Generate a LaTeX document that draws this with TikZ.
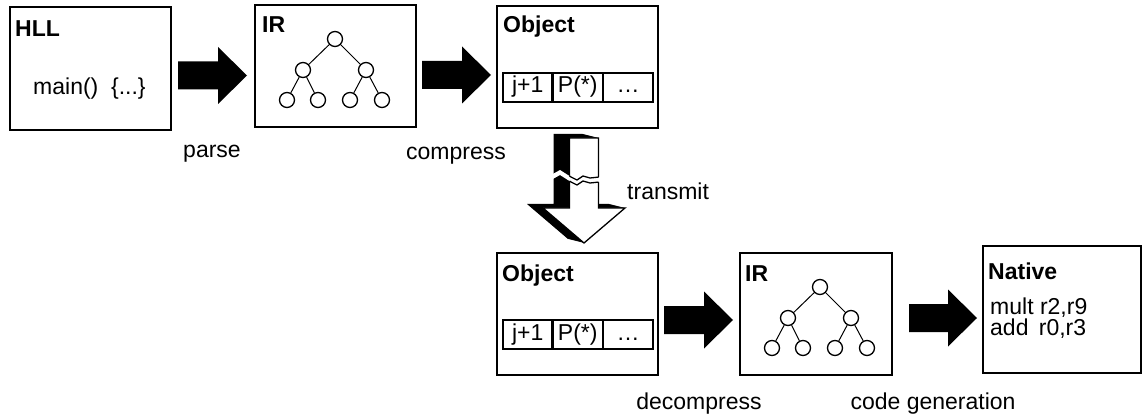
\documentclass[tikz,border=0pt]{standalone}
\usepackage{fontspec}
\setmainfont{Liberation Sans}
\usetikzlibrary{calc}

% horizontal block arrow from #1 to #2 (the y of #1 is used)
\newcommand\fatarrow[2]{%
  \fill let \p1=#1, \p2=#2 in
    (\x1,\y1+14pt) -- (\x2-29pt,\y1+14pt) -- (\x2-29pt,\y1+28.5pt) -- (\x2,\y1)
    -- (\x2-29pt,\y1-28.5pt) -- (\x2-29pt,\y1-14pt) -- (\x1,\y1-14pt) -- cycle;}

% small binary tree inside box #2, node names prefixed with #1
\newcommand\bintree[2]{%
  \node[knot] (#1r) at ($(#2.north west)+(80,34)$) {};
  \node[knot] (#1a) at ($(#2.north west)+(48,65)$) {};
  \node[knot] (#1b) at ($(#2.north west)+(111,65)$) {};
  \node[knot] (#1c) at ($(#2.north west)+(32,95)$) {};
  \node[knot] (#1d) at ($(#2.north west)+(63,95)$) {};
  \node[knot] (#1e) at ($(#2.north west)+(95,95)$) {};
  \node[knot] (#1f) at ($(#2.north west)+(127,95)$) {};
  \draw[branch] (#1r) -- (#1a) (#1r) -- (#1b) (#1a) -- (#1c) (#1a) -- (#1d)
                (#1b) -- (#1e) (#1b) -- (#1f);}

% three-cell record inside box #2
\newcommand\recordrow[2]{%
  \node[cell, minimum width=49.5pt] (#1p) at ($(#2.north west)+(6,81.5)$) {j+1};
  \node[cell, minimum width=50.5pt] (#1q) at (#1p.east) {P(*)};
  \node[cell, minimum width=50pt] (#1s) at (#1q.east) {…};}

\begin{document}
\begin{tikzpicture}[x=1pt,y=-1pt,
  every node/.style={font=\fontsize{23}{27}\selectfont},
  box/.style={draw, line width=2.7pt, inner sep=0, outer sep=0, anchor=north west},
  title/.style={anchor=base west, inner sep=0, font=\fontsize{23}{27}\selectfont\bfseries},
  txt/.style={anchor=base west, inner sep=0},
  lbl/.style={anchor=base, inner sep=0},
  cell/.style={draw, line width=2.3pt, minimum height=29pt, inner sep=0, outer sep=0,
               anchor=west, text height=16pt, text depth=5pt},
  knot/.style={circle, draw, line width=1.3pt, fill=white, minimum size=15pt, inner sep=0},
  branch/.style={line width=1pt},
  crackline/.style={line width=1.3pt, line join=round},
]
\useasboundingbox (0,0) rectangle (1144,417);

% ---- boxes ----
\node[box, minimum width=161pt, minimum height=123pt] (hll)  at (10,7) {};
\node[box, minimum width=161pt, minimum height=122pt] (ir1)  at (255,5) {};
\node[box, minimum width=161pt, minimum height=122pt] (obj1) at (497,6) {};
\node[box, minimum width=161pt, minimum height=122pt] (obj2) at (497,253) {};
\node[box, minimum width=152pt, minimum height=122pt] (ir2)  at (740,253) {};
\node[box, minimum width=158pt, minimum height=127pt] (nat)  at (983,246) {};

% ---- titles ----
\node[title] (hllt)  at ($(hll.north west)+(5,30)$)  {HLL};
\node[title] (ir1t)  at ($(ir1.north west)+(7,28)$)  {IR};
\node[title] (obj1t) at ($(obj1.north west)+(6,27)$) {Object};
\node[title] (obj2t) at ($(obj2.north west)+(5,28)$) {Object};
\node[title] (ir2t)  at ($(ir2.north west)+(5,28)$)  {IR};
\node[title] (natt)  at ($(nat.north west)+(5,33)$)  {Native};

% ---- contents ----
\node[txt] (src) at (33,95) {main()\ \ \{...\}};
\bintree{s}{ir1}
\bintree{t}{ir2}
\recordrow{u}{obj1}
\recordrow{v}{obj2}
\node[txt] (ln1) at (990,314) {mult r2,r9};
\node[txt] (ln2) at (990,335) {add\hspace{0.45em}r0,r3};

% ---- block arrows ----
\fatarrow{($(hll.east)+(7,7)$)}{($(ir1.west)+(-8,7)$)}
\fatarrow{($(ir1.east)+(6,9)$)}{($(obj1.west)+(-6,9)$)}
\fatarrow{($(obj2.east)+(6,6)$)}{($(ir2.west)+(-7,6)$)}
\fatarrow{($(ir2.east)+(17,4)$)}{($(nat.west)+(-6,4)$)}

% ---- transmit arrow: extruded, with a break in the shaft ----
\coordinate (tx) at ($(obj1.south)+(6.5,10)$);
\begin{scope}[shift={(tx)}]
  \foreach \t in {0,1,...,16}
    \fill[shift={(-\t,-\t/4)}] (-14.5,0) -- (14.5,0) -- (14.5,70) -- (41,70) -- (0,105)
      -- (-41,70) -- (-14.5,70) -- cycle;
  \filldraw[fill=white, line width=1.3pt, line join=miter]
    (-14.5,0) -- (14.5,0) -- (14.5,70) -- (41,70) -- (0,105)
      -- (-41,70) -- (-14.5,70) -- cycle;
  \fill[white] (-33,37) -- (-24,32) -- (-13,39) -- (-7,42) -- (-1,38) -- (6,40) -- (16,39)
    -- (16,44) -- (6,45) -- (-1,43) -- (-7,47) -- (-13,44) -- (-24,37) -- (-33,42) -- cycle;
  \draw[crackline] (-14.5,38) -- (-13,39) -- (-7,42) -- (-1,38) -- (6,40) -- (14.5,39.1);
  \draw[crackline] (-14.5,43) -- (-13,44) -- (-7,47) -- (-1,43) -- (6,45) -- (14.5,44.1);
\end{scope}

% ---- step labels ----
\node[lbl] (l1) at (212,158) {parse};
\node[lbl] (l2) at (456,160) {compress};
\node[txt] (l3) at ($(tx)+(43,62)$) {transmit};
\node[lbl] (l4) at (699,409) {decompress};
\node[lbl] (l5) at (933,409) {code generation};
\end{tikzpicture}
\end{document}
